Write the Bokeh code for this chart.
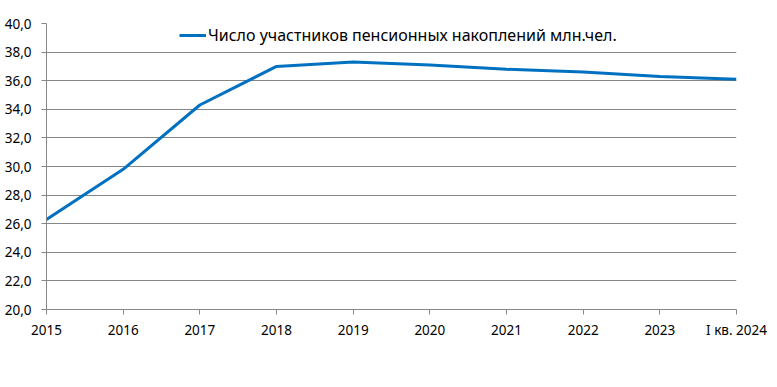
from bokeh.plotting import figure
from bokeh.models import FixedTicker, CustomJSTickFormatter, Legend, LegendItem, ColumnDataSource
from bokeh.embed import file_html
from bokeh.resources import INLINE

categories = ["2015", "2016", "2017", "2018", "2019", "2020", "2021", "2022", "2023", "I кв. 2024"]
participants = [26.3, 29.8, 34.3, 37.0, 37.3, 37.1, 36.8, 36.6, 36.3, 36.1]
series_name = "Число участников пенсионных накоплений млн.чел."
y_ticks = [20, 22, 24, 26, 28, 30, 32, 34, 36, 38, 40]

FONT = "Noto Sans"
GRID = "#868686"

p = figure(width=777, height=387, output_backend="svg", toolbar_location=None,
           x_range=(0, len(categories) - 1), y_range=(20, 40),
           min_border_left=46, min_border_right=41, min_border_top=23, min_border_bottom=78)
p.outline_line_color = None
p.background_fill_color = "white"
p.border_fill_color = "white"

xs = list(range(len(categories)))
src = ColumnDataSource(dict(x=xs, y=participants))
r = p.line("x", "y", source=src, line_color="#0070C0", line_width=3)

p.xgrid.grid_line_color = None
p.ygrid.grid_line_color = GRID
p.ygrid.grid_line_width = 1
p.ygrid.ticker = FixedTicker(ticks=y_ticks)

p.xaxis.ticker = FixedTicker(ticks=xs)
p.xaxis.major_label_overrides = {i: c for i, c in enumerate(categories)}
p.yaxis.ticker = FixedTicker(ticks=y_ticks)
p.yaxis.formatter = CustomJSTickFormatter(code="return tick.toFixed(1).replace('.', ',');")

for ax in (p.xaxis[0], p.yaxis[0]):
    ax.axis_line_color = GRID
    ax.major_tick_line_color = GRID
    ax.major_tick_out = 5
    ax.major_tick_in = 0
    ax.minor_tick_line_color = None
    ax.major_label_text_font = FONT
    ax.major_label_text_font_size = "13.5px"
    ax.major_label_text_color = "black"
p.xaxis.major_label_standoff = 6
p.yaxis.major_label_standoff = 10

legend = Legend(items=[LegendItem(label=series_name, renderers=[r])],
                location=(133, 263), border_line_color=None, background_fill_alpha=0,
                padding=0, margin=0, glyph_width=27, glyph_height=20, label_standoff=2,
                label_text_font=FONT, label_text_font_size="16px", label_text_color="black")
p.add_layout(legend)

open("out.html", "w").write(file_html(p, INLINE))
